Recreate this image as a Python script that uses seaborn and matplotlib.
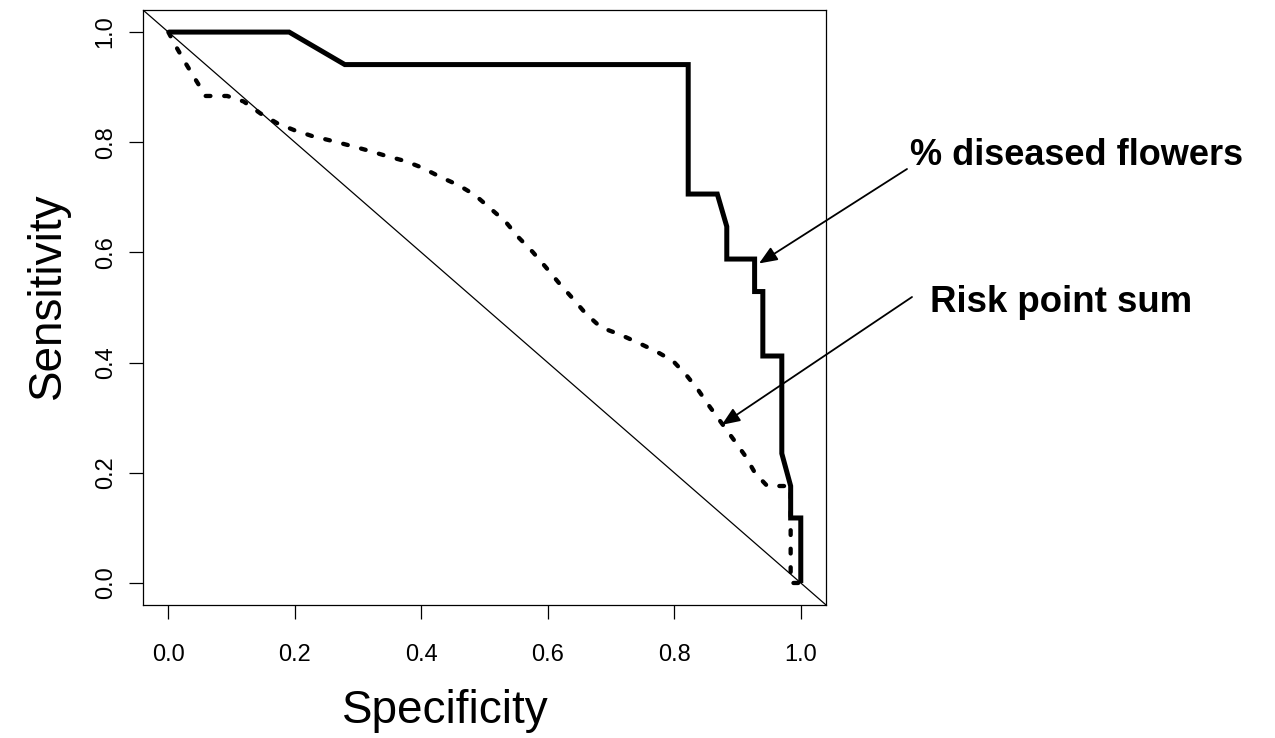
import matplotlib
matplotlib.use("Agg")
import matplotlib.pyplot as plt
import seaborn as sns
import pandas as pd

# ---- data ----
spec_flowers = [0, 0.191, 0.279, 0.822, 0.822, 0.868, 0.883, 0.883, 0.927, 0.927,
                0.940, 0.940, 0.970, 0.970, 0.984, 0.984, 1.0, 1.0]
sens_flowers = [1, 1, 0.941, 0.941, 0.706, 0.706, 0.647, 0.588, 0.588, 0.529,
                0.529, 0.412, 0.412, 0.235, 0.176, 0.118, 0.118, 0.0]

spec_risk = [0, 0.011, 0.027, 0.045, 0.059, 0.093, 0.119, 0.146, 0.173, 0.199,
             0.228, 0.257, 0.287, 0.316, 0.345, 0.374, 0.401, 0.430, 0.459, 0.485,
             0.509, 0.533, 0.554, 0.576, 0.597, 0.618, 0.639, 0.660, 0.684, 0.714,
             0.743, 0.772, 0.798, 0.820, 0.838, 0.856, 0.875, 0.894, 0.912, 0.928,
             0.947, 0.984, 0.984, 1.0]
sens_risk = [1, 0.976, 0.944, 0.910, 0.884, 0.884, 0.874, 0.852, 0.834, 0.822,
             0.811, 0.803, 0.794, 0.785, 0.775, 0.766, 0.754, 0.737, 0.722, 0.704,
             0.680, 0.656, 0.627, 0.601, 0.573, 0.544, 0.517, 0.489, 0.464, 0.451,
             0.436, 0.420, 0.403, 0.376, 0.350, 0.320, 0.290, 0.260, 0.231, 0.199,
             0.176, 0.176, 0.0, 0.0]

ticks = [0.0, 0.2, 0.4, 0.6, 0.8, 1.0]
tick_labels = ["0.0", "0.2", "0.4", "0.6", "0.8", "1.0"]

xlabel = "Specificity"
ylabel = "Sensitivity"
label_flowers = "% diseased flowers"
label_risk = "Risk point sum"
arrow_tip_flowers = (0.934, 0.580)
arrow_tip_risk = (0.875, 0.287)

# ---- style ----
sns.set_style("white")
plt.rcParams["font.family"] = ["Liberation Sans", "DejaVu Sans"]
plt.rcParams["text.color"] = "black"

W, H = 1275, 738
fig = plt.figure(figsize=(W / 100, H / 100), dpi=100)
ax = fig.add_axes([0.1122, 0.1802, 0.5357, 0.8062])

df_f = pd.DataFrame({"spec": spec_flowers, "sens": sens_flowers})
df_r = pd.DataFrame({"spec": spec_risk, "sens": sens_risk})

ax.axline((0, 1), slope=-1, color="black", lw=0.9)
sns.lineplot(data=df_r, x="spec", y="sens", sort=False, estimator=None, ax=ax,
             color="black", lw=3.1, linestyle=(0, (1.1, 3.2)),
             dash_capstyle="round", solid_capstyle="round")
sns.lineplot(data=df_f, x="spec", y="sens", sort=False, estimator=None, ax=ax,
             color="black", lw=3.6, solid_joinstyle="miter", solid_capstyle="butt")

ax.set_xlim(-0.04, 1.04)
ax.set_ylim(-0.04, 1.04)
ax.set_xticks(ticks)
ax.set_xticklabels(tick_labels)
ax.set_yticks(ticks)
ax.set_yticklabels(tick_labels, rotation=90, va="center")
ax.tick_params(axis="both", direction="out", length=10, width=0.9,
               labelsize=17, color="black", labelcolor="black",
               left=True, bottom=True)
ax.tick_params(axis="x", pad=18)
ax.tick_params(axis="y", pad=9)
for s in ax.spines.values():
    s.set_visible(True)
    s.set_color("black")
    s.set_linewidth(0.9)
ax.set_xlabel("")
ax.set_ylabel("")

# axis titles placed like the reference
fig.text(445.5 / W, 15 / H, xlabel, fontsize=33, color="black",
         ha="center", va="baseline")
fig.text(60 / W, (H - 296) / H, ylabel, fontsize=33, color="black",
         ha="center", va="baseline", rotation=90, rotation_mode="anchor")

# annotations
arrow_kw = dict(arrowstyle="-|>,head_length=1.1,head_width=0.45",
                color="black", lw=1.3, shrinkA=0, shrinkB=0)
ax.annotate("", xy=arrow_tip_flowers, xycoords="data",
            xytext=(907, H - 169), textcoords="figure pixels",
            arrowprops=arrow_kw, annotation_clip=False)
ax.annotate("", xy=arrow_tip_risk, xycoords="data",
            xytext=(912, H - 297), textcoords="figure pixels",
            arrowprops=arrow_kw, annotation_clip=False)
fig.text(910 / W, (H - 165) / H, label_flowers, fontsize=26, fontweight="bold",
         color="black", ha="left", va="baseline")
fig.text(930 / W, (H - 312) / H, label_risk, fontsize=26.4, fontweight="bold",
         color="black", ha="left", va="baseline")

fig.savefig("out.png", dpi=100, facecolor="white")
